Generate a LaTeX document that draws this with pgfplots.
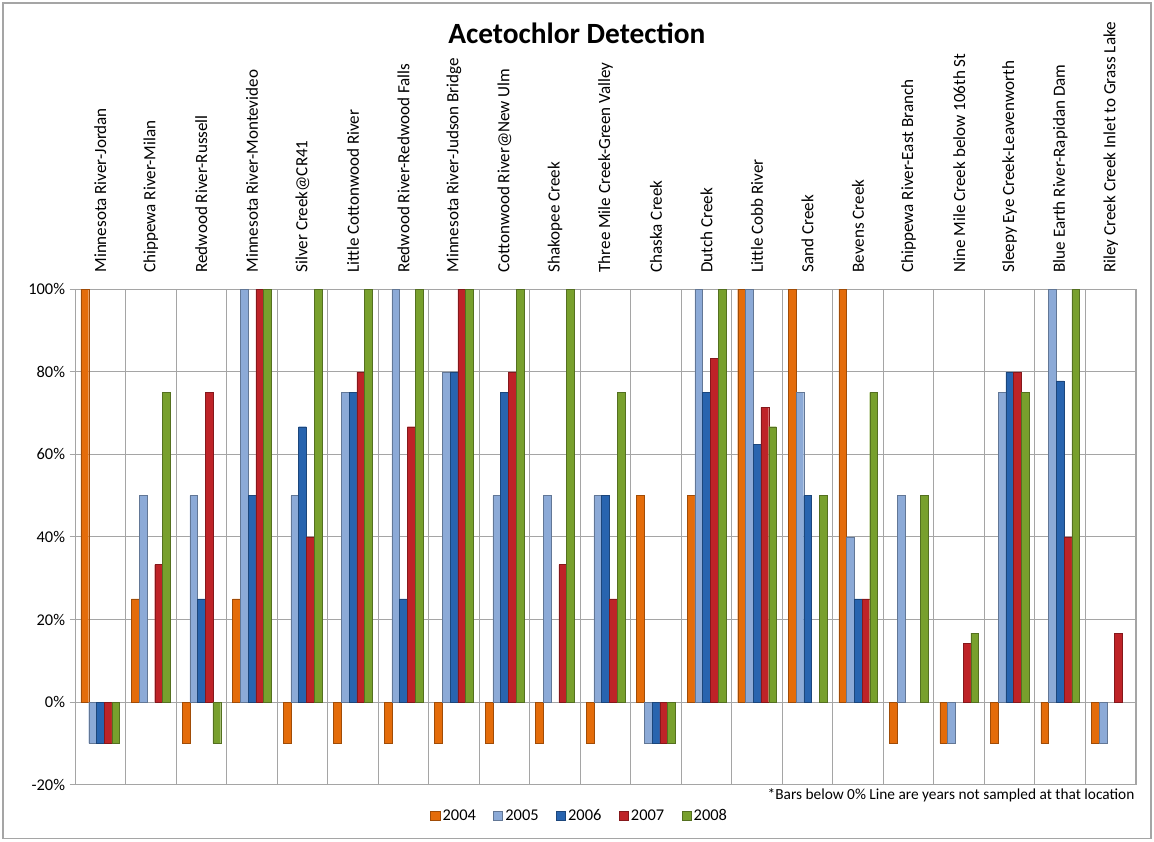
\documentclass[border=0pt]{standalone}
\usepackage{pgfplots}
\pgfplotsset{compat=1.18}
\usepackage{fontspec}
\setmainfont{Carlito}
\definecolor{cA}{RGB}{228,108,10}
\definecolor{cB}{RGB}{140,170,215}
\definecolor{cC}{RGB}{40,100,175}
\definecolor{cD}{RGB}{190,35,40}
\definecolor{cE}{RGB}{120,160,45}
\definecolor{gridc}{RGB}{165,165,165}
\begin{document}
\begin{tikzpicture}
\path (-56.25pt,-42.75pt) rectangle (808.5pt,588pt);
\draw[gridc, line width=0.8pt] (-54pt,-40.5pt) rectangle (806.25pt,585.75pt);
\begin{axis}[
  at={(0,0)}, anchor=south west,
  scale only axis, width=795pt, height=371.25pt,
  ymin=-20, ymax=100, ytick={-20,0,20,40,60,80,100},
  yticklabel={\pgfmathprintnumber{\tick}\%},
  /pgf/number format/assume math mode=true,
  xmin=-0.5, xmax=20.5, xtick={0,...,20},
  xticklabels={Minnesota River-Jordan, Chippewa River-Milan, Redwood River-Russell, Minnesota River-Montevideo, Silver Creek@CR41, Little Cottonwood River, Redwood River-Redwood Falls, Minnesota River-Judson Bridge, Cottonwood River@New Ulm, Shakopee Creek, Three Mile Creek-Green Valley, Chaska Creek, Dutch Creek, Little Cobb River, Sand Creek, Bevens Creek, Chippewa River-East Branch, Nine Mile Creek below 106th St, Sleepy Eye Creek-Leavenworth, Blue Earth River-Rapidan Dam, Riley Creek Creek Inlet to Grass Lake},
  xticklabel pos=upper,
  xticklabel style={yshift=5pt, rotate=90, anchor=west, font=\fontsize{12.8}{14}\selectfont},
  yticklabel style={font=\fontsize{12.3}{14}\selectfont},
  x tick style={draw=none}, minor x tick style={draw=none},
  y tick style={gridc, line width=0.8pt}, ytick pos=left, ytick align=outside,
  major tick length=4pt,
  minor x tick num=1, xminorgrids=true, xmajorgrids=false, ymajorgrids=true,
  grid style={gridc, line width=0.8pt},
  minor grid style={gridc, line width=0.8pt},
  axis line style={gridc, line width=0.8pt},
  ybar=0pt, bar width=5.8pt,
  legend columns=5,
  legend style={at={(0.476,-0.063)}, anchor=center, draw=none, fill=none,
    font=\fontsize{12.3}{14}\selectfont,
    /tikz/every even column/.append style={column sep=11pt}},
  legend image code/.code={\fill[#1] (0pt,-3.4pt) rectangle (6.8pt,3.4pt);},
  every axis plot/.append style={line width=0.3pt},
]
\addplot[fill=cA, draw=cA!70!black] coordinates {(0,100)(1,25)(2,-10)(3,25)(4,-10)(5,-10)(6,-10)(7,-10)(8,-10)(9,-10)(10,-10)(11,50)(12,50)(13,100)(14,100)(15,100)(16,-10)(17,-10)(18,-10)(19,-10)(20,-10)};
\addplot[fill=cB, draw=cB!70!black] coordinates {(0,-10)(1,50)(2,50)(3,100)(4,50)(5,75)(6,100)(7,80)(8,50)(9,50)(10,50)(11,-10)(12,100)(13,100)(14,75)(15,40)(16,50)(17,-10)(18,75)(19,100)(20,-10)};
\addplot[fill=cC, draw=cC!70!black] coordinates {(0,-10)(2,25)(3,50)(4,66.7)(5,75)(6,25)(7,80)(8,75)(10,50)(11,-10)(12,75)(13,62.5)(14,50)(15,25)(18,80)(19,77.8)};
\addplot[fill=cD, draw=cD!70!black] coordinates {(0,-10)(1,33.3)(2,75)(3,100)(4,40)(5,80)(6,66.7)(7,100)(8,80)(9,33.3)(10,25)(11,-10)(12,83.3)(13,71.4)(15,25)(17,14.3)(18,80)(19,40)(20,16.7)};
\addplot[fill=cE, draw=cE!70!black] coordinates {(0,-10)(1,75)(2,-10)(3,100)(4,100)(5,100)(6,100)(7,100)(8,100)(9,100)(10,75)(11,-10)(12,100)(13,66.7)(14,50)(15,75)(16,50)(17,16.7)(18,75)(19,100)};
\legend{2004,2005,2006,2007,2008}
\end{axis}
\node[font=\bfseries\fontsize{22}{26}\selectfont] at (376pt,563pt) {Acetochlor Detection};
\node[anchor=north east, inner sep=0pt, font=\fontsize{11.5}{13}\selectfont] at (794pt,-3pt) {*Bars below 0\% Line are years not sampled at that location};
\end{tikzpicture}
\end{document}
